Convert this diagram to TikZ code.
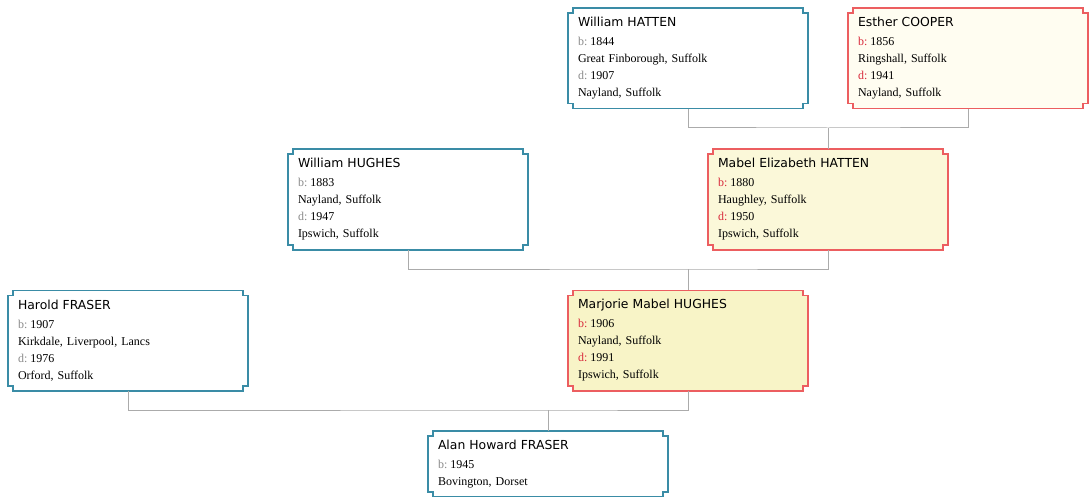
\documentclass[tikz,border=0pt]{standalone}
\usepackage{fontspec}
\setmainfont{Liberation Serif}
\newfontfamily\namefont{DejaVu Sans}
\usepackage{tikz}
\usetikzlibrary{backgrounds}
\definecolor{mblue}{HTML}{3A8CA6}
\definecolor{fred}{HTML}{EC5E60}
\definecolor{tagm}{HTML}{8A8A8A}
\definecolor{tagf}{HTML}{D8283A}
\definecolor{fillA}{HTML}{FFFDF1}
\definecolor{fillB}{HTML}{FBF8D9}
\definecolor{fillC}{HTML}{F8F4C7}
\definecolor{linkgrey}{HTML}{ABABAB}
\newcommand{\nm}[1]{{\namefont\fontsize{12.4}{14}\selectfont #1}\\[2pt]}
\newcommand{\bd}{{\color{tag}b:}\hspace{3pt}}
\newcommand{\dd}{{\color{tag}d:}\hspace{3pt}}
\tikzstyle{person}=[rectangle, minimum width=240pt, minimum height=100pt, text width=220pt, align=left, inner xsep=10pt, inner ysep=0pt, font=\fontsize{12}{17}\selectfont]
\tikzstyle{male}=[person, execute at begin node={\colorlet{tag}{tagm}}]
\tikzstyle{female}=[person, execute at begin node={\colorlet{tag}{tagf}}]
\tikzstyle{link}=[draw=linkgrey, line width=1pt]

\begin{document}
\begin{tikzpicture}[x=1pt, y=-1pt]
		   \useasboundingbox (0,0) rectangle (1092,497);
		   \begin{scope}
			   \node (5) at (688, 58.5)[male] {\nm{William HATTEN}\bd 1844\\Great Finborough, Suffolk\\\dd 1907\\Nayland, Suffolk};
			   \node (6) at (968, 58.5)[female] {\nm{Esther COOPER}\bd 1856\\Ringshall, Suffolk\\\dd 1941\\Nayland, Suffolk};
			   \node (3) at (408, 199.5)[male] {\nm{William HUGHES}\bd 1883\\Nayland, Suffolk\\\dd 1947\\Ipswich, Suffolk};
			   \node (4) at (828, 199.5)[female] {\nm{Mabel Elizabeth HATTEN}\bd 1880\\Haughley, Suffolk\\\dd 1950\\Ipswich, Suffolk};
			   \node (1) at (128, 340.5)[male] {\nm{Harold FRASER}\bd 1907\\Kirkdale, Liverpool, Lancs\\\dd 1976\\Orford, Suffolk};
			   \node (2) at (688, 340.5)[female] {\nm{Marjorie Mabel HUGHES}\bd 1906\\Nayland, Suffolk\\\dd 1991\\Ipswich, Suffolk};
			   \node (0) at (548, 464)[male, minimum height=66pt] {\nm{Alan Howard FRASER}\bd 1945\\Bovington, Dorset};
		   \end{scope}
		   \begin{scope}[on background layer]
			   \foreach \n/\bc/\fc in {5/mblue/white, 6/fred/fillA, 3/mblue/white, 4/fred/fillB, 1/mblue/white, 2/fred/fillC, 0/mblue/white}
				   \draw[draw=\bc, fill=\fc, line width=1.6pt]
					   ([xshift=5pt]\n.north west) -- ([xshift=-5pt]\n.north east) -- ++(0pt,-5pt) -- ++(5pt,0pt)
					   -- ([yshift=5pt]\n.south east) -- ++(-5pt,0pt) -- ++(0pt,-5pt)
					   -- ([xshift=5pt]\n.south west) -- ++(0pt,5pt) -- ++(-5pt,0pt)
					   -- ([yshift=-5pt]\n.north west) -- ++(5pt,0pt) -- cycle;
		   \end{scope}
		   \begin{scope}
			   \coordinate (j1) at (828, 128);
			   \coordinate (j2) at (688, 269);
			   \coordinate (j3) at (548, 410);
			   \path [link] (5.south) |- (j1) -| (6.south);
			   \path [link] (j1) edge (4.north);
			   \path [link] (3.south) |- (j2) -| (4.south);
			   \path [link] (j2) edge (2.north);
			   \path [link] (1.south) |- (j3) -| (2.south);
			   \path [link] (j3) edge (0.north);
		   \end{scope}
	   \end{tikzpicture}
\end{document}
